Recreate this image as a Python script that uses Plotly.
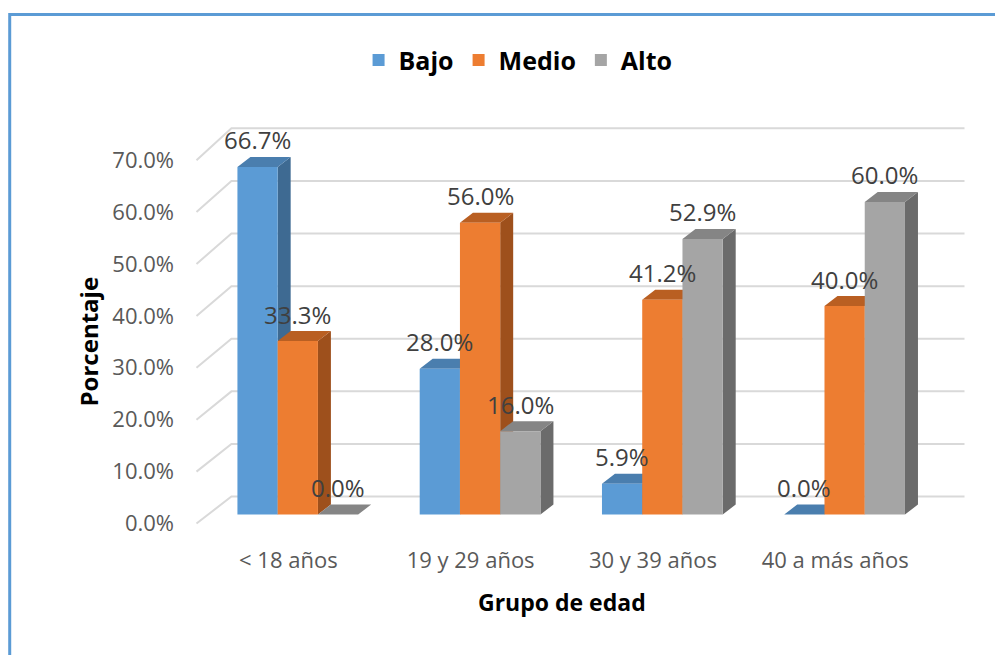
import plotly.graph_objects as go

# ── Data ──────────────────────────────────────────────────────────────────────
grupos = ["< 18 años", "19 y 29 años", "30 y 39 años", "40 a más años"]
bajo = [66.7, 28.0, 5.9, 0.0]
medio = [33.3, 56.0, 41.2, 40.0]
alto = [0.0, 16.0, 52.9, 60.0]
series_names = ["Bajo", "Medio", "Alto"]
y_ticks = [0, 10, 20, 30, 40, 50, 60, 70]

# front / top / side shades of each series (Excel 3-D column look)
COLORS = {
    "Bajo": ("#5B9BD5", "#4A7EAE", "#3E6A92"),
    "Medio": ("#ED7D31", "#B95F22", "#9E501C"),
    "Alto": ("#A5A5A5", "#858585", "#6B6B6B"),
}
FONT = "Open Sans"

# ── Geometry (pixels of the 1003x655 window; the page body adds an 8px margin) ─
W, H, OFF = 1003, 655, 8
PL, PR, PT, PB = 178.5, 972.5, 119.75, 525.5      # plot area
X0, XU = 288.0, 182.5                            # category 0 centre, px per category
Y0, YU = 515.0, 5.22                             # bar base, px per percent
Y_RANGE = [(Y0 - PB) / YU, (Y0 - PT) / YU]
X_RANGE = [(PL - X0) / XU, (PR - X0) / XU]
LAB_RANGE = [-(PB - 524) / 5.2, (524 - PT) / 5.2]  # tick labels sit on the front floor edge

BAR_W = 40.3 / XU
GROUP_OFF = -51 / XU
DX, DY = 13 / XU, 10 / YU                        # bar depth
WALL_L, WALL_R, FRONT_L = (231 - X0) / XU, (965 - X0) / XU, (196 - X0) / XU


def paper_x(p):
    return (p - PL) / (PR - PL)


def paper_y(p):
    return (PB - p) / (PB - PT)


fig = go.Figure()

# back-wall gridlines and the short side-wall diagonals
gx, gy = [], []
for v in y_ticks:
    back = (Y0 - 497 + 5.27 * v) / YU
    gx += [FRONT_L, WALL_L, WALL_R, None]
    gy += [(Y0 - 524 + 5.2 * v) / YU, back, back, None]
fig.add_trace(go.Scatter(x=gx, y=gy, mode="lines", line=dict(color="#D9D9D9", width=2),
                         hoverinfo="skip", showlegend=False))

values = {"Bajo": bajo, "Medio": medio, "Alto": alto}
idx = list(range(len(grupos)))

# side faces first, then top faces
for face in ("side", "top"):
    for k, name in enumerate(series_names):
        px_, py_ = [], []
        for i, v in zip(idx, values[name]):
            xl = i + GROUP_OFF + k * BAR_W
            xr = xl + BAR_W
            if face == "side":
                px_ += [xr, xr, xr + DX, xr + DX, xr, None]
                py_ += [0, v, v + DY, DY, 0, None]
            else:
                px_ += [xl, xr, xr + DX, xl + DX, xl, None]
                py_ += [v, v, v + DY, v + DY, v, None]
        col = COLORS[name][2] if face == "side" else COLORS[name][1]
        fig.add_trace(go.Scatter(x=px_, y=py_, mode="lines", fill="toself", fillcolor=col,
                                 line=dict(width=0, color=col), hoverinfo="skip",
                                 showlegend=False))

# invisible anchor so the tick-label axis gets drawn
fig.add_trace(go.Scatter(x=[X_RANGE[0]] * len(y_ticks), y=y_ticks, mode="markers",
                         marker=dict(opacity=0), yaxis="y3", hoverinfo="skip",
                         showlegend=False))

# front faces as real bars on an overlaid pair of axes (drawn on top)
for k, name in enumerate(series_names):
    fig.add_trace(go.Bar(
        x=idx, y=values[name], name=name,
        offset=GROUP_OFF + k * BAR_W, width=BAR_W,
        marker=dict(color=COLORS[name][0], line=dict(width=0)),
        xaxis="x2", yaxis="y2",
        hovertemplate="<b>%{x}</b><br>" + name + ": %{y:.1f}%<extra></extra>",
    ))

# data labels
for k, name in enumerate(series_names):
    for i, v in zip(idx, values[name]):
        fig.add_annotation(x=i + GROUP_OFF + (k + 0.5) * BAR_W, y=v, xref="x", yref="y",
                           text=f"{v:.1f}%", showarrow=False, yshift=27,
                           font=dict(family=FONT, size=24, color="#404040"))

# axis titles
fig.add_annotation(x=paper_x(562), y=paper_y(603), xref="paper", yref="paper",
                   xanchor="center", yanchor="middle",
                   text="<b>Grupo de edad</b>", showarrow=False,
                   font=dict(family=FONT, size=23, color="#000000"))
fig.add_annotation(x=paper_x(88), y=paper_y(342), xref="paper", yref="paper",
                   xanchor="center", yanchor="middle",
                   text="<b>Porcentaje</b>", showarrow=False, textangle=-90,
                   font=dict(family=FONT, size=24, color="#000000"))

# chart frame
fig.add_shape(type="rect", xref="paper", yref="paper",
              x0=paper_x(9), x1=paper_x(1015), y0=paper_y(14), y1=paper_y(700),
              line=dict(color="#5B9BD5", width=3), layer="below")

fig.update_layout(
    width=W - OFF, height=H - OFF,
    margin=dict(l=PL - OFF, r=W - PR, t=PT - OFF, b=H - PB, autoexpand=False),
    paper_bgcolor="white", plot_bgcolor="white",
    barmode="overlay",
    showlegend=True,
    legend=dict(orientation="h", x=paper_x(518), xanchor="center",
                y=paper_y(60), yanchor="middle",
                font=dict(family=FONT, size=25, color="#000000", weight="bold"),
                itemclick=False),
    xaxis=dict(range=X_RANGE, tickvals=idx, ticktext=grupos, showgrid=False,
               zeroline=False, showline=False, ticks="", ticklabelstandoff=20,
               tickfont=dict(family=FONT, size=22, color="#595959")),
    yaxis=dict(range=Y_RANGE, showgrid=False, zeroline=False, showticklabels=False),
    xaxis2=dict(range=X_RANGE, overlaying="x", visible=False),
    yaxis2=dict(range=Y_RANGE, overlaying="y", visible=False),
    yaxis3=dict(range=LAB_RANGE, overlaying="y", side="left", showgrid=False,
                zeroline=False, tickvals=y_ticks, ticktext=[f"{v:.1f}%" for v in y_ticks],
                ticks="", ticklabelstandoff=4,
                tickfont=dict(family=FONT, size=22, color="#595959")),
)

fig.write_html("out.html")
